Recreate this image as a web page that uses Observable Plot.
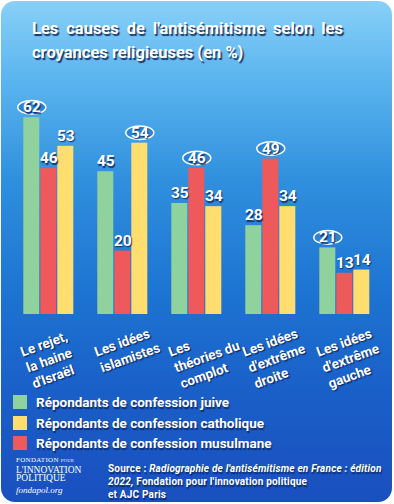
<!DOCTYPE html>
<html><head><meta charset="utf-8">
<script src="https://cdn.jsdelivr.net/npm/d3@7"></script>
<script src="https://cdn.jsdelivr.net/npm/@observablehq/plot@0.6"></script>
<style>
html,body{margin:0;padding:0;background:#fff;width:394px;height:504px;overflow:hidden;}
#card{position:absolute;left:1px;top:1px;width:391px;height:501px;border-radius:14px;overflow:hidden;
 background:linear-gradient(to bottom,#88d0f8 0%,#5ab4ee 16%,#2f8fdd 36%,#1d74d2 58%,#1a5fc8 78%,#1a4fbf 100%);
 font-family:Roboto,"Open Sans",sans-serif;color:#fff;}
.sh{text-shadow:1px 1.5px 1px rgba(12,35,90,.85);}
#title{position:absolute;left:31px;top:16px;width:311px;font-weight:700;font-size:16.5px;line-height:24px;text-shadow:1.5px 1.5px 1px rgba(12,35,90,.9);}
#title .l1{text-align:justify;text-align-last:justify;white-space:nowrap;display:block;}
#chart{position:absolute;left:-1px;top:79px;}
#chart text{text-shadow:1px 1.5px 1px rgba(12,35,90,.85);}
#legend{position:absolute;left:12px;top:391px;font-weight:700;font-size:13.5px;font-family:"Liberation Sans Narrow",Roboto,sans-serif;}
#legend .row{display:flex;align-items:center;height:20.5px;}
#legend .sw{width:14px;height:14px;margin-right:9px;}
#logo{position:absolute;left:15px;top:455px;font-family:"Liberation Serif","DejaVu Serif",serif;line-height:8.6px;}
#logo .a{font-size:7px;letter-spacing:.3px;}
#logo .b{font-size:9.5px;}
#logo .c{font-size:9px;font-style:italic;margin-top:3px;}
#source{position:absolute;left:107px;top:461px;font-weight:700;font-size:10px;line-height:13px;white-space:nowrap;letter-spacing:.2px;}
</style></head>
<body>
<div id="card">
 <div id="title"><span class="l1">Les causes de l'antisémitisme selon les</span>croyances religieuses (en %)</div>
 <div id="chart"></div>
 <div id="legend" class="sh"></div>
 <div id="logo"><div class="a">FONDATION <span style="font-size:4.5px">POUR</span></div><div class="b">L'INNOVATION</div><div class="b">POLITIQUE</div><div class="c">fondapol.org</div></div>
 <div id="source" class="sh">Source : <i>Radiographie de l'antisémitisme en France : édition</i><br><i>2022,</i> Fondation pour l'innovation politique<br>et AJC Paris</div>
</div>
<script>
const categories = ["Le rejet,\nla haine\nd'Israël", "Les idées\nislamistes", "Les\nthéories du\ncomplot", "Les idées\nd'extrême\ndroite", "Les idées\nd'extrême\ngauche"];
const series = ["Répondants de confession juive", "Répondants de confession musulmane", "Répondants de confession catholique"];
const legendOrder = ["Répondants de confession juive", "Répondants de confession catholique", "Répondants de confession musulmane"];
const juive = [62, 45, 35, 28, 21];
const musulmane = [46, 20, 46, 49, 13];
const catholique = [53, 54, 34, 34, 14];
const colors = ["#8fd29e", "#ee5a5b", "#ffdd6f"];

const values = [juive, musulmane, catholique];
const data = categories.flatMap((c, i) => series.map((s, j) => ({cat: c, s, v: values[j][i]})));

const k = 0.5523;
const ellipse = {draw(ctx) {
  const rx = 14, ry = 6.8;
  ctx.moveTo(rx, 0);
  ctx.bezierCurveTo(rx, ry * k, rx * k, ry, 0, ry);
  ctx.bezierCurveTo(-rx * k, ry, -rx, ry * k, -rx, 0);
  ctx.bezierCurveTo(-rx, -ry * k, -rx * k, -ry, 0, -ry);
  ctx.bezierCurveTo(rx * k, -ry, rx, -ry * k, rx, 0);
  ctx.closePath();
}};

const chart = Plot.plot({
  width: 392, height: 315,
  marginLeft: 20.7, marginRight: 19.7, marginTop: 37.3, marginBottom: 81,
  style: {background: "none", overflow: "visible"},
  fx: {domain: categories, paddingInner: 0.29, paddingOuter: 0, axis: null, label: null},
  x: {domain: series, paddingInner: 0.03, paddingOuter: 0, axis: null},
  y: {domain: [0, 62], axis: null},
  color: {domain: series, range: colors},
  marks: [
    Plot.barY(data, {fx: "cat", x: "s", y: "v", fill: "s"}),
    Plot.dot(data, Plot.selectMaxY({fx: "cat", x: "s", y: "v", dy: -10.5, symbol: ellipse, fill: "#2d84d4", stroke: "white", strokeWidth: 1.5})),
    Plot.text(data, {fx: "cat", x: "s", y: "v", text: d => String(d.v), dy: -10.5, fill: "white", fontSize: 15.5, fontWeight: 700, fontFamily: "Roboto"}),
    Plot.text(categories, {fx: d => d, text: d => d, frameAnchor: "bottom-left", dx: -4, dy: 31, rotate: -20, textAnchor: "start", lineAnchor: "top", lineHeight: 1.25, fill: "white", fontSize: 13.5, fontWeight: 700, fontFamily: "Liberation Sans Narrow, Roboto"})
  ]
});
document.getElementById("chart").appendChild(chart);

const leg = document.getElementById("legend");
for (const s of legendOrder) {
  const row = document.createElement("div"); row.className = "row";
  const sw = document.createElement("div"); sw.className = "sw";
  sw.style.background = colors[series.indexOf(s)];
  const t = document.createElement("span"); t.textContent = s;
  row.appendChild(sw); row.appendChild(t); leg.appendChild(row);
}
</script>
</body></html>
